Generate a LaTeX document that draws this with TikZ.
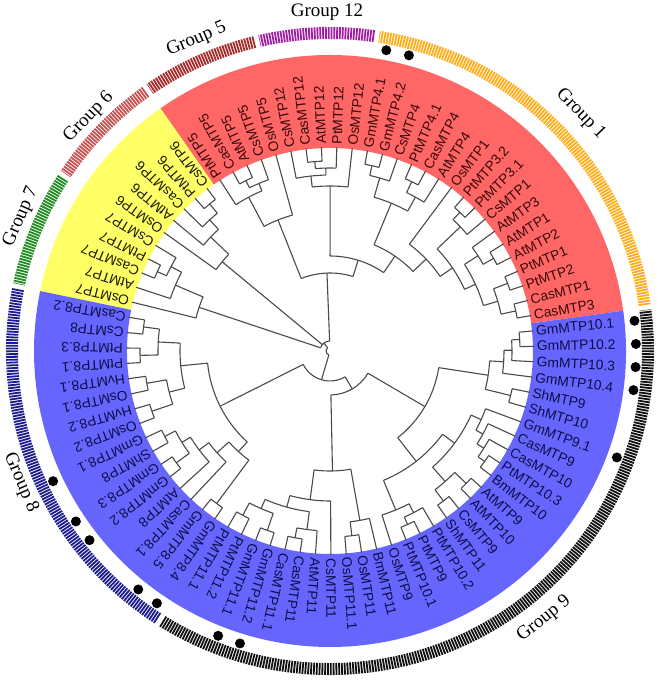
\documentclass[tikz,border=0pt]{standalone}
\usepackage{fontspec}
\setmainfont{Liberation Serif}
\setsansfont{Liberation Sans}
\definecolor{bandred}{HTML}{FF6666}
\definecolor{bandyellow}{HTML}{FFFF66}
\definecolor{bandblue}{HTML}{6666FF}
\definecolor{ringorange}{HTML}{FFAE1A}
\definecolor{ringpurple}{HTML}{A01EA0}
\definecolor{ringbrown}{HTML}{A52A2A}
\definecolor{ringrose}{HTML}{C85050}
\definecolor{ringgreen}{HTML}{228B22}
\definecolor{ringnavy}{HTML}{1C1C8C}
\definecolor{ringblack}{HTML}{111111}
\definecolor{branchgray}{HTML}{4A4A4A}
\definecolor{txtred}{HTML}{3A0808}
\definecolor{txtyellow}{HTML}{1A1A00}
\definecolor{txtblue}{HTML}{0E0E48}
% leaf slot -> angle
\newcommand{\azero}{10}
\newcommand{\dstep}{4.33735}

\begin{document}
\begin{tikzpicture}[x=1pt, y=1pt,
  branch/.style={draw=branchgray, line width=1.1pt},
  leaf/.style={anchor=west, inner sep=0pt,
               font=\sffamily\fontsize{13.8}{14}\selectfont},
  ring/.style={line width=12pt, dash pattern=on 1.8pt off 1pt},
  grouplabel/.style={font=\fontsize{19}{20}\selectfont},
  gmdot/.style={fill=black},
]
  \useasboundingbox (-330,-329) rectangle (332,351);
  \fill[white] (-330,-329) rectangle (332,351);

  % coloured bands
  \fill[bandred] (7.83:203) arc[start angle=7.83, end angle=124.94, radius=203]
    -- (124.94:296) arc[start angle=124.94, end angle=7.83, radius=296] -- cycle;
  \fill[bandyellow] (124.94:203) arc[start angle=124.94, end angle=168.31, radius=203]
    -- (168.31:296) arc[start angle=168.31, end angle=124.94, radius=296] -- cycle;
  \fill[bandblue] (168.31:203) arc[start angle=168.31, end angle=367.83, radius=203]
    -- (367.83:296) arc[start angle=367.83, end angle=168.31, radius=296] -- cycle;

  % group rings
  \foreach \ta/\tb/\col in {8.3/81.1/ringorange, 82.0/102.8/ringpurple,
      103.7/124.5/ringbrown, 125.4/146.2/ringrose, 147.1/167.9/ringgreen,
      168.8/237.3/ringnavy, 238.2/367.4/ringblack}
    \draw[ring, draw=\col] (\ta:318) arc[start angle=\ta, end angle=\tb, radius=318];

  % internal nodes: first child / last child / radius / parent radius
  \foreach \sa/\sb/\r/\p in {
      0/1/190/175, 2/3/190/175, 0.5/2.5/175/160, 4/5/188/176, 4.5/6/176/160,
      1.5/5.25/160/148, 8/9/190/180, 7/8.5/180/148, 3.375/7.75/148/133,
      5.5625/10/133/115, 12/13/188/176, 11/12.5/176/160, 15/16/190/180,
      14/15.5/180/160, 11.75/14.75/160/115, 7.78125/13.25/115/95,
      19/20/190/183, 18/19.5/183/176, 18.75/21/176/165, 17/19.875/165/95,
      10.515625/18.4375/95/78, 24/25/190/182, 23/24.5/182/174,
      23.75/26/174/141, 22/24.875/141/78, 14.4765625/23.4375/78/10,
      27/28/190/178, 27.5/29/178/165, 28.25/30/165/140, 29.125/31/140/10,
      33/34/190/180, 32/33.5/180/168, 32.75/35/168/138, 33.875/36/138/10,
      18.95703125/34.9375/10/4,
      37/38/188/172, 39/40/190/172, 37.5/39.5/172/150, 41/42/186/166,
      43/44/188/166, 41.5/43.5/166/150, 38.5/42.5/150/123,
      45/46/186/174, 47/48/190/174, 45.5/47.5/174/164, 46.5/49/164/152,
      47.75/50/152/136, 51/52/190/136, 48.875/51.5/136/123,
      40.5/50.1875/123/30,
      53/54/186/172, 55/56/190/172, 53.5/55.5/172/162, 57/58/190/180,
      57.5/59/180/162, 54.5/58.25/162/150, 56.375/60/150/120,
      61/62/186/172, 61.5/63/172/120, 58.1875/62.25/120/44,
      65/66/190/182, 65.5/67/182/172, 64/66.25/172/140, 68/69/188/174,
      70/71/190/174, 68.5/70.5/174/155, 72/73/190/182, 72.5/74/182/174,
      73.25/75/174/166, 74.125/76/166/155, 69.5/75.0625/155/140,
      65.125/72.28125/140/110, 77/78/186/160, 81/82/190/182,
      80/81.5/182/174, 79/80.75/174/160, 77.5/79.875/160/110,
      68.703125/78.6875/110/44, 60.21875/73.6953125/44/30,
      45.34375/66.95703125/30/4, 26.947265625/56.150390625/4/4} {
    \pgfmathsetmacro\ta{\azero+\sa*\dstep}
    \pgfmathsetmacro\tb{\azero+\sb*\dstep}
    \pgfmathsetmacro\tm{(\ta+\tb)/2}
    \draw[branch] (\ta:\r) arc[start angle=\ta, end angle=\tb, radius=\r];
    \draw[branch] (\tm:\p) -- (\tm:\r);
  }

  % terminal branches: slot / parent radius
  \foreach \s/\p in {0/190,1/190,2/190,3/190,4/188,5/188,6/176,7/180,8/190,
      9/190,10/133,11/176,12/188,13/188,14/180,15/190,16/190,17/165,18/183,
      19/190,20/190,21/176,22/141,23/182,24/190,25/190,26/174,
      27/190,28/190,29/178,30/165,31/140,32/180,33/190,34/190,35/168,36/138,
      37/188,38/188,39/190,40/190,41/186,42/186,43/188,44/188,45/186,46/186,
      47/190,48/190,49/164,50/152,51/190,52/190,
      53/186,54/186,55/190,56/190,57/190,58/190,59/180,60/150,61/186,62/186,
      63/172,64/172,65/190,66/190,67/182,68/188,69/188,70/190,71/190,72/190,
      73/190,74/182,75/174,76/166,77/186,78/186,79/174,80/182,81/190,82/190} {
    \pgfmathsetmacro\t{\azero+\s*\dstep}
    \draw[branch] (\t:\p) -- (\t:204);
  }

  % leaf labels
  \foreach \s/\name in {0/CasMTP3, 1/CasMTP1, 2/PtMTP2, 3/PtMTP1, 4/AtMTP2,
      5/AtMTP1, 6/AtMTP3, 7/CsMTP1, 8/PtMTP3.1, 9/PtMTP3.2, 10/OsMTP1,
      11/AtMTP4, 12/CasMTP4, 13/PtMTP4.1, 14/CsMTP4, 15/GmMTP4.2,
      16/GmMTP4.1, 17/OsMTP12, 18/PtMTP12, 19/AtMTP12, 20/CasMTP12,
      21/CsMTP12, 22/OsMTP5, 23/CsMTP5, 24/AtMTP5, 25/CasMTP5, 26/PtMTP5} {
    \pgfmathsetmacro\t{\azero+\s*\dstep}
    \node[leaf, text=txtred, rotate=\t] (leaf-\s) at (\t:207) {\name};
  }
  \foreach \s/\name in {27/CsMTP6, 28/PtMTP6, 29/CasMTP6, 30/AtMTP6,
      31/OsMTP6, 32/CsMTP7, 33/PtMTP7, 34/CasMTP7, 35/AtMTP7, 36/OsMTP7} {
    \pgfmathsetmacro\t{\azero+\s*\dstep}
    \node[leaf, text=txtyellow, rotate=\t] (leaf-\s) at (\t:207) {\name};
  }
  \foreach \s/\name in {37/CasMTP8.2, 38/CsMTP8, 39/PtMTP8.3, 40/PtMTP8.1,
      41/HvMTP8.1, 42/OsMTP8.1, 43/HvMTP8.2, 44/OsMTP8.2, 45/GmMTP8.1,
      46/ShMTP8, 47/GmMTP8.3, 48/GmMTP8.2, 49/AtMTP8, 50/CasMTP8.1,
      51/GmMTP8.5, 52/GmMTP8.4, 53/PtMTP11.1, 54/PtMTP11.2, 55/GmMTP11.1,
      56/GmMTP11.2, 57/CasMTP11.1, 58/CasMTP11, 59/AtMTP11, 60/CsMTP11,
      61/OsMTP11.1, 62/OsMTP11, 63/BmMTP11, 64/OsMTP9, 65/PtMTP10.1,
      66/PtMTP9, 67/PtMTP10.2, 68/ShMTP11, 69/CsMTP9, 70/AtMTP10,
      71/AtMTP9, 72/BmMTP10, 73/PtMTP10.3, 74/CasMTP10, 75/CasMTP9,
      76/GmMTP9.1, 77/ShMTP10, 78/ShMTP9, 79/GmMTP10.4, 80/GmMTP10.3,
      81/GmMTP10.2, 82/GmMTP10.1} {
    \pgfmathsetmacro\t{\azero+\s*\dstep}
    \node[leaf, text=txtblue, rotate=\t] (leaf-\s) at (\t:207) {\name};
  }

  % Gm markers
  \foreach \s in {15,16,45,47,48,51,52,55,56,76,79,80,81,82} {
    \pgfmathsetmacro\t{\azero+\s*\dstep}
    \fill[gmdot] (\t:306) circle (5);
  }

  % group names
  \node[grouplabel, rotate=-46.6] (g1)  at (43.4:345)  {Group 1};
  \node[grouplabel]               (g12) at (90.5:339)  {Group 12};
  \node[grouplabel, rotate=23.2]  (g5)  at (113.2:339) {Group 5};
  \node[grouplabel, rotate=45.9]  (g6)  at (135.9:336) {Group 6};
  \node[grouplabel, rotate=66.2]  (g7)  at (156.5:337) {Group 7};
  \node[grouplabel, rotate=-67]   (g8)  at (203:336)   {Group 8};
  \node[grouplabel, rotate=38.6]  (g9)  at (-51.4:343) {Group 9};
\end{tikzpicture}
\end{document}
